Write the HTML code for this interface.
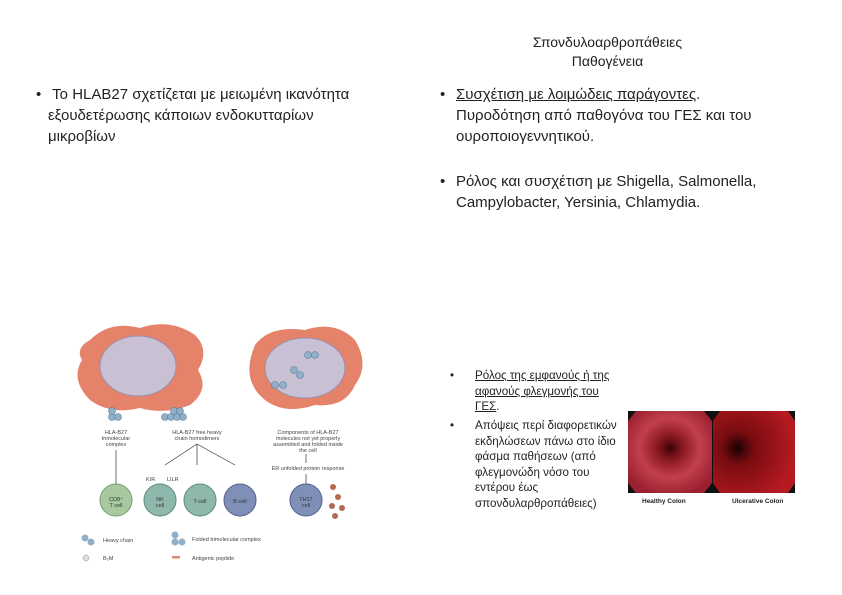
<!DOCTYPE html>
<html><head><meta charset="utf-8"><style>
body{margin:0;width:842px;height:595px;background:#fff;position:relative;overflow:hidden;font-family:"Liberation Sans","DejaVu Sans",sans-serif;color:#222}
.t{position:absolute;font-size:15px;line-height:21px;white-space:nowrap}
.s{position:absolute;font-size:11.6px;line-height:15.5px;white-space:nowrap}
u{text-decoration:underline}
.b{position:absolute}
</style></head><body>
<div class="t" style="left:520px;top:33px;width:175px;text-align:center;font-size:14px;line-height:19px">Σπονδυλοαρθροπάθειες<br>Παθογένεια</div>
<div class="t" style="left:36px;top:84px">•</div>
<div class="t" style="left:48px;top:84px">&nbsp;Το HLAB27 σχετίζεται με μειωμένη ικανότητα<br>εξουδετέρωσης κάποιων ενδοκυτταρίων<br>μικροβίων</div>
<div class="t" style="left:440px;top:84px">•</div>
<div class="t" style="left:456px;top:84px"><u>Συσχέτιση με λοιμώδεις παράγοντες</u>.<br>Πυροδότηση από παθογόνα του ΓΕΣ και του<br>ουροποιογεννητικού.</div>
<div class="t" style="left:440px;top:171px">•</div>
<div class="t" style="left:456px;top:171px">Ρόλος και συσχέτιση με Shigella, Salmonella,<br>Campylobacter, Yersinia, Chlamydia.</div>
<div class="s" style="left:450px;top:368px">•</div>
<div class="s" style="left:475px;top:368px"><u>Ρόλος της εμφανούς ή της<br>αφανούς φλεγμονής του<br>ΓΕΣ</u>.</div>
<div class="s" style="left:450px;top:418px">•</div>
<div class="s" style="left:475px;top:418px">Απόψεις περί διαφορετικών<br>εκδηλώσεων πάνω στο ίδιο<br>φάσμα παθήσεων (από<br>φλεγμονώδη νόσο του<br>εντέρου έως<br>σπονδυλαρθροπάθειες)</div>
<svg class="b" style="left:628px;top:411px" width="167" height="97">
<defs><radialGradient id="g1" cx="0.5" cy="0.45" r="0.6"><stop offset="0" stop-color="#3a0508"/><stop offset="0.25" stop-color="#8a1820"/><stop offset="0.6" stop-color="#c2404d"/><stop offset="1" stop-color="#9a2030"/></radialGradient>
<radialGradient id="g2" cx="0.3" cy="0.45" r="0.7"><stop offset="0" stop-color="#1a0204"/><stop offset="0.3" stop-color="#7a0c10"/><stop offset="1" stop-color="#b51a22"/></radialGradient></defs>
<rect width="167" height="82" fill="#111"/>
<polygon points="8,0 76,0 84,10 84,72 76,82 8,82 0,72 0,10" fill="url(#g1)"/>
<polygon points="92,0 160,0 167,10 167,72 160,82 92,82 85,72 85,10" fill="url(#g2)"/>
<text x="14" y="92" font-size="6.5" font-weight="bold" fill="#222" font-family="Liberation Sans">Healthy Colon</text>
<text x="104" y="92" font-size="6.5" font-weight="bold" fill="#222" font-family="Liberation Sans">Ulcerative Colon</text>
</svg>
<svg class="b" style="left:70px;top:320px" width="300" height="250" font-family="Liberation Sans" font-size="5.5" fill="#444">
<path d="M20,20 Q40,0 70,8 Q100,-2 125,15 Q140,30 128,50 Q140,70 120,85 Q95,95 70,88 Q40,95 20,80 Q0,60 12,40 Q5,28 20,20Z" fill="#e4826a"/>
<ellipse cx="68" cy="46" rx="38" ry="30" fill="#c9c0d4" stroke="#9a90b0"/>
<path d="M185,25 Q200,5 235,10 Q265,0 285,20 Q300,45 285,65 Q275,88 245,85 Q215,95 195,80 Q170,60 185,25Z" fill="#e4826a"/>
<ellipse cx="235" cy="48" rx="40" ry="30" fill="#c9c0d4" stroke="#9a90b0"/>
<g fill="#8fb0c8" stroke="#5a7f9a" stroke-width="0.6">
<circle cx="42" cy="97" r="3.5"/><circle cx="48" cy="97" r="3.5"/><circle cx="42" cy="91" r="3.5"/>
<circle cx="95" cy="97" r="3.5"/><circle cx="101" cy="97" r="3.5"/><circle cx="107" cy="97" r="3.5"/><circle cx="113" cy="97" r="3.5"/><circle cx="104" cy="91" r="3.5"/><circle cx="110" cy="91" r="3.5"/>
<circle cx="205" cy="65" r="3.5"/><circle cx="213" cy="65" r="3.5"/><circle cx="224" cy="50" r="3.5"/><circle cx="230" cy="55" r="3.5"/><circle cx="238" cy="35" r="3.5"/><circle cx="245" cy="35" r="3.5"/>
</g>
<text x="46" y="114" text-anchor="middle">HLA-B27</text><text x="46" y="120" text-anchor="middle">trimolecular</text><text x="46" y="126" text-anchor="middle">complex</text>
<text x="127" y="114" text-anchor="middle">HLA-B27 free heavy</text><text x="127" y="120" text-anchor="middle">chain homodimers</text>
<text x="238" y="114" text-anchor="middle">Components of HLA-B27</text><text x="238" y="120" text-anchor="middle">molecules not yet properly</text><text x="238" y="126" text-anchor="middle">assembled and folded inside</text><text x="238" y="132" text-anchor="middle">the cell</text>
<text x="238" y="150" text-anchor="middle">ER unfolded protein response</text>
<g stroke="#333" stroke-width="0.7"><line x1="46" y1="130" x2="46" y2="165"/><line x1="127" y1="124" x2="95" y2="145"/><line x1="127" y1="124" x2="127" y2="145"/><line x1="127" y1="124" x2="165" y2="145"/><line x1="236" y1="134" x2="236" y2="143"/><line x1="236" y1="154" x2="236" y2="165"/></g>
<circle cx="46" cy="180" r="16" fill="#a8c8a0" stroke="#7a9a70"/>
<circle cx="90" cy="180" r="16" fill="#8fb8ac" stroke="#5a8a80"/>
<circle cx="130" cy="180" r="16" fill="#8fb8ac" stroke="#5a8a80"/>
<circle cx="170" cy="180" r="16" fill="#7f8fb8" stroke="#50608a"/>
<circle cx="236" cy="180" r="16" fill="#7f8fb8" stroke="#50608a"/>
<g fill="#b36a55"><circle cx="263" cy="167" r="3"/><circle cx="268" cy="177" r="3"/><circle cx="262" cy="186" r="3"/><circle cx="272" cy="188" r="3"/><circle cx="265" cy="196" r="3"/></g>
<text x="46" y="181" text-anchor="middle" fill="#333">CD8⁺</text><text x="46" y="187" text-anchor="middle" fill="#333">T cell</text>
<text x="90" y="181" text-anchor="middle" fill="#333">NK</text><text x="90" y="187" text-anchor="middle" fill="#333">cell</text>
<text x="130" y="183" text-anchor="middle" fill="#333">T cell</text><text x="170" y="183" text-anchor="middle" fill="#333">B cell</text>
<text x="236" y="181" text-anchor="middle" fill="#333">TH17</text><text x="236" y="187" text-anchor="middle" fill="#333">cell</text>
<text x="76" y="161">KIR</text><text x="97" y="161">LILR</text>
<circle cx="15" cy="218" r="3.5" fill="#8fb0c8"/><circle cx="21" cy="222" r="3.5" fill="#8fb0c8"/>
<text x="33" y="222">Heavy chain</text>
<circle cx="16" cy="238" r="3" fill="#ddd" stroke="#999" stroke-width="0.5"/><text x="33" y="240">B₂M</text>
<circle cx="105" cy="215" r="3.5" fill="#8fb0c8"/><circle cx="105" cy="222" r="3.5" fill="#8fb0c8"/><circle cx="112" cy="222" r="3.5" fill="#8fb0c8"/>
<text x="122" y="221">Folded trimolecular complex</text>
<rect x="102" y="236" width="8" height="2.5" fill="#d88a70"/><text x="122" y="240">Antigenic peptide</text>
</svg>
</body></html>
